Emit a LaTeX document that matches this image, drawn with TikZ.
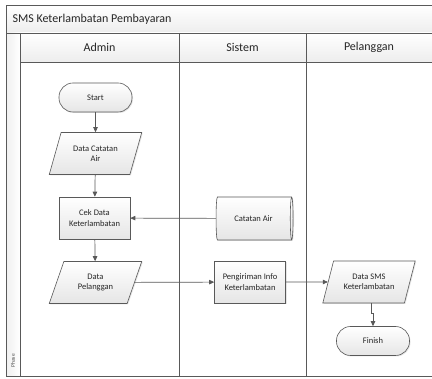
\documentclass[tikz,border=0pt]{standalone}
\usepackage{fontspec}
\setmainfont{Carlito}
\usetikzlibrary{shapes.geometric,arrows.meta,shadows}

\begin{document}
\begin{tikzpicture}[x=1pt, y=-1pt,
    line/.style = {draw=black!65, line width=0.7pt},
    flow/.style = {line, -{Triangle[length=5pt,width=4.5pt]}},
    box/.style = {draw=black!65, line width=0.6pt, top color=white, bottom color=black!10,
        drop shadow={shadow xshift=1pt, shadow yshift=-1pt, opacity=0.2},
        font=\fontsize{8.5}{10.5}\selectfont, align=center, text=black!85, inner sep=1pt},
    proc/.style = {box, rectangle, minimum width=71pt, minimum height=42pt},
    term/.style = {box, rectangle, rounded corners=14pt, minimum width=73pt, minimum height=29pt},
    datain/.style = {box, trapezium, trapezium left angle=66, trapezium right angle=114,
        trapezium stretches=true, minimum width=93pt, minimum height=42pt},
    store/.style = {box, cylinder, shape aspect=0.35, minimum width=43pt, minimum height=77pt},
    lane/.style = {font=\fontsize{12}{14}\selectfont, text=black!85}]

    \useasboundingbox (0,0) rectangle (432,379);

    % pool frame
    \shade[top color=white, bottom color=black!7] (6,5) rectangle (440,33);
    \shade[top color=white, bottom color=black!7] (20,33) rectangle (440,62);
    \shade[left color=black!6, right color=white] (6,33) rectangle (20,376);
    \draw[line] (440,5) -- (6,5) -- (6,376) -- (440,376);
    \draw[line] (6,33) -- (440,33);
    \draw[line] (20,33) -- (20,376);
    \draw[line] (20,62) -- (440,62);
    \draw[line] (179,33) -- (179,376);
    \draw[line] (306,33) -- (306,376);

    \node[lane, anchor=west] (judul) at (9,19) {SMS Keterlambatan Pembayaran};
    \node[lane] (admin) at (99.5,47) {Admin};
    \node[lane] (sistem) at (242.5,47) {Sistem};
    \node[lane] (pelanggan) at (369,47) {Pelanggan};
    \node[font=\fontsize{5.5}{6}\selectfont, text=black!70, rotate=90, anchor=west] (phase) at (13,371) {Phase};

    % admin
    \node[term] (start) at (95.5,97.5) {Start};
    \node[datain] (dca) at (95.5,153.5) {Data Catatan\\Air};
    \node[proc] (cek) at (94.5,218) {Cek Data\\Keterlambatan};
    \node[datain] (dpel) at (95.5,282.5) {Data\\Pelanggan};

    % sistem
    \node[store] (ca) at (253.5,218.5) {Catatan Air};
    \node[proc] (kirim) at (250,282) {Pengiriman Info\\Keterlambatan};

    % pelanggan
    \node[datain] (sms) at (369,282) {Data SMS\\Keterlambatan};
    \node[term] (finish) at (373,341) {Finish};

    \draw[flow] (start) -- (dca);
    \draw[flow] (dca) -- (cek);
    \draw[flow] (cek) -- (dpel);
    \draw[flow] (ca) -- (cek);
    \draw[flow] (dpel) -- (kirim);
    \draw[flow] (kirim) -- (sms);
    \draw[flow] (sms.south) ++(2,0) coordinate (smsb) -- ++(0,10) -| (finish.north);
\end{tikzpicture}
\end{document}
